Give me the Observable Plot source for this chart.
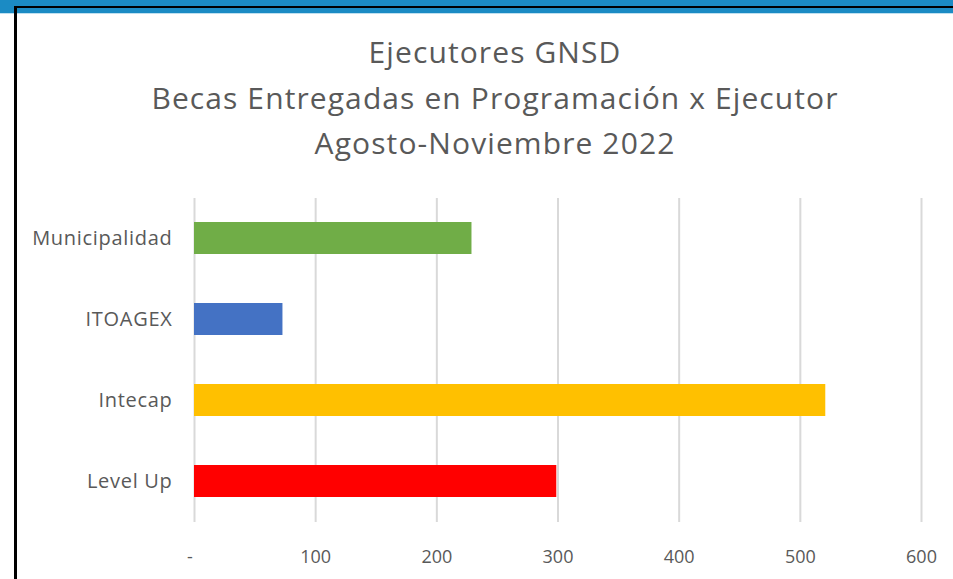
<!DOCTYPE html>
<html>
<head>
<meta charset="utf-8">
<script src="https://cdn.jsdelivr.net/npm/d3@7"></script>
<script src="https://cdn.jsdelivr.net/npm/@observablehq/plot@0.6"></script>
<style>
  html, body { margin: 0; padding: 0; background: #fff; }
  #wrap { position: relative; width: 953px; height: 579px; overflow: hidden; background: #fff; font-family: "Open Sans", sans-serif; }
  #band { position: absolute; left: 0; top: 0; width: 953px; height: 13px; background: #1b8bc4; border-bottom: 1px solid #bfe0f0; }
  #frame { position: absolute; left: 14px; top: 6px; width: 960px; height: 600px; border-left: 3px solid #000; border-top: 2px solid #000; box-sizing: border-box; }
  #title { position: absolute; left: 17px; top: 29px; width: 956px; text-align: center; color: #595959; font-size: 30px; letter-spacing: 1.1px; line-height: 45.5px; }
  #chart { position: absolute; left: 0; top: 175px; }
  #chart svg g[aria-label="y-axis tick label"] text { letter-spacing: 0.7px; }
</style>
</head>
<body>
<div id="wrap">
  <div id="band"></div>
  <div id="frame"></div>
  <div id="title">
    <div>Ejecutores GNSD</div>
    <div>Becas Entregadas en Programación x Ejecutor</div>
    <div>Agosto-Noviembre 2022</div>
  </div>
  <div id="chart"></div>
</div>
<script>
const ejecutores = ["Municipalidad", "ITOAGEX", "Intecap", "Level Up"];
const becas = [229, 73, 521, 299];
const colores = ["#70ad47", "#4472c4", "#ffc000", "#ff0000"];
const xTicks = [0, 100, 200, 300, 400, 500, 600];

const data = ejecutores.map((e, i) => ({ ejecutor: e, becas: becas[i] }));

const plot = Plot.plot({
  width: 953,
  height: 404,
  marginTop: 23,
  marginBottom: 57,
  marginLeft: 194,
  marginRight: 32,
  style: { fontFamily: "'Open Sans', sans-serif", fontSize: "18px", color: "#595959", background: "transparent" },
  x: { domain: [0, 600], ticks: xTicks, label: null },
  y: { domain: ejecutores, paddingInner: 0.6, paddingOuter: 0.3, label: null },
  color: { domain: ejecutores, range: colores },
  marks: [
    Plot.gridX(xTicks, { stroke: "#d9d9d9", strokeOpacity: 1, strokeWidth: 2 }),
    Plot.barX(data, { x: "becas", y: "ejecutor", fill: "ejecutor" }),
    Plot.axisX(xTicks, { tickSize: 0, tickPadding: 28, fontSize: 18, tickFormat: d => d === 0 ? "-\u2002" : String(d), label: null, fill: "#595959" }),
    Plot.axisY({ tickSize: 0, tickPadding: 22, fontSize: 20, label: null, fill: "#595959" })
  ]
});
document.getElementById("chart").appendChild(plot);
</script>
</body>
</html>
